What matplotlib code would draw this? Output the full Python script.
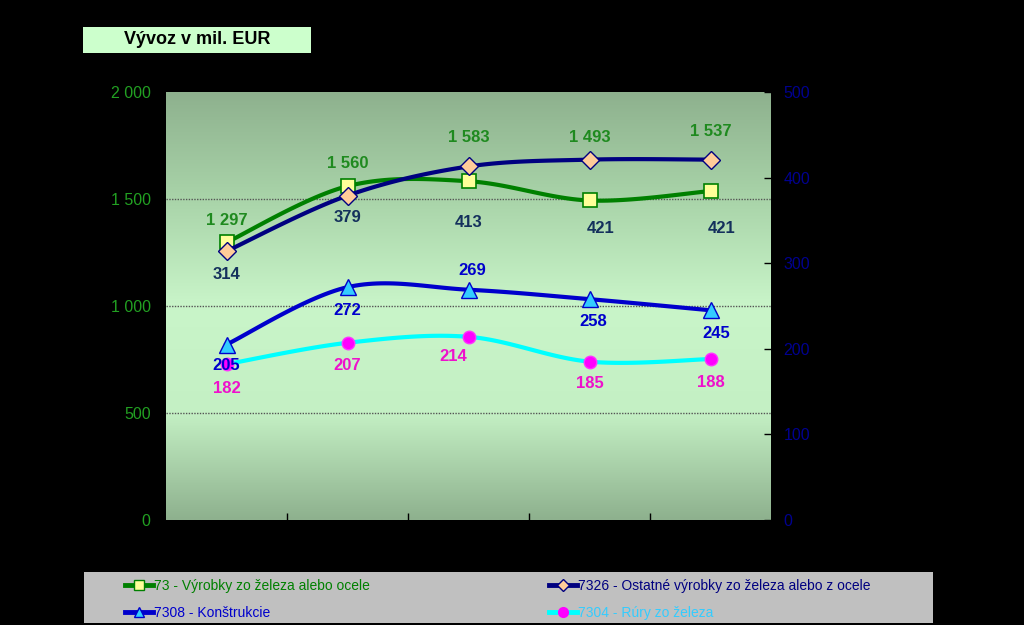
import matplotlib
matplotlib.use('Agg')
import matplotlib.pyplot as plt
from matplotlib.colors import LinearSegmentedColormap
from matplotlib.lines import Line2D
from matplotlib.patches import Rectangle
import numpy as np

plt.rcParams['font.family'] = ['Liberation Sans', 'DejaVu Sans']

# data
years = ['2004', '2005', '2006', '2007', '2008']
v73 = [1297, 1560, 1583, 1493, 1537]          # left axis
v7326 = [314, 379, 413, 421, 421]             # right axis
v7308 = [205, 272, 269, 258, 245]             # right axis
v7304 = [182, 207, 214, 185, 188]             # right axis

names = ['73 - Výrobky zo železa alebo ocele',
         '7326 - Ostatné výrobky zo železa alebo z ocele',
         '7308 - Konštrukcie',
         '7304 - Rúry zo železa']

left_ticks = [0, 500, 1000, 1500, 2000]
left_labels = ['0', '500', '1 000', '1 500', '2 000']
right_ticks = [0, 100, 200, 300, 400, 500]

# label offsets (pixels, x/y) for each point
off73 = [(0, 22), (0, 23), (0, 44), (0, 63), (0, 60)]
off7326 = [(0, -23), (0, -22), (0, -56), (11, -69), (11, -69)]
off7308 = [(0, -21), (0, -23), (4, 19), (4, -22), (6, -23)]
off7304 = [(0, -24), (0, -23), (-15, -20), (0, -22), (0, -23)]


def fmt(v):
    return '{:,}'.format(v).replace(',', ' ')


def smooth(x, y, n=30):
    # catmull-rom style bezier, like excel smoothed lines
    x = np.asarray(x, float)
    y = np.asarray(y, float)
    px = np.concatenate([[x[0]], x, [x[-1]]])
    py = np.concatenate([[y[0]], y, [y[-1]]])
    xs, ys = [], []
    t = np.linspace(0, 1, n)
    for i in range(1, len(px) - 2):
        p0 = np.array([px[i], py[i]])
        p3 = np.array([px[i + 1], py[i + 1]])
        c1 = p0 + (np.array([px[i + 1], py[i + 1]]) - np.array([px[i - 1], py[i - 1]])) / 6
        c2 = p3 - (np.array([px[i + 2], py[i + 2]]) - np.array([px[i], py[i]])) / 6
        b = (((1 - t) ** 3)[:, None] * p0 + (3 * (1 - t) ** 2 * t)[:, None] * c1
             + (3 * (1 - t) * t ** 2)[:, None] * c2 + (t ** 3)[:, None] * p3)
        xs.extend(b[:, 0])
        ys.extend(b[:, 1])
    return xs, ys


fig = plt.figure(figsize=(10.24, 6.25), dpi=100, facecolor='black')
ax = fig.add_axes([166 / 1024, 105 / 625, 605 / 1024, 428 / 625])
ax2 = ax.twinx()

# background gradient
cmap = LinearSegmentedColormap.from_list('bg', ['#8eb18e', '#a9d4a9', '#c9f5c9', '#c4f0c4', '#8eb18e'])
grad = np.linspace(0, 1, 256).reshape(-1, 1)
ax.imshow(grad, cmap=cmap, aspect='auto', extent=[-0.5, 4.5, 0, 2000], origin='upper', zorder=0)

x = np.arange(len(years))

ax.set_xlim(-0.5, 4.5)
ax.set_ylim(0, 2000)
ax2.set_ylim(0, 500)

for v in [500, 1000, 1500]:
    ax.axhline(v, color='#555555', lw=1, ls=(0, (1, 1)), zorder=1)

# lines
sx, sy = smooth(x, v73)
ax.plot(sx, sy, color='#008000', lw=3, zorder=3)
ax.plot(x, v73, ls='None', marker='s', ms=10, mfc='#ffff99', mec='#008000', mew=1.2, zorder=4)

ax.set_zorder(1)
ax.patch.set_visible(False)
ax2.set_zorder(2)

sx, sy = smooth(x, v7326)
ax2.plot(sx, sy, color='#000080', lw=3, zorder=3)
ax2.plot(x, v7326, ls='None', marker='D', ms=9, mfc='#ffcc99', mec='#000080', mew=1.0, zorder=4)

sx, sy = smooth(x, v7308)
ax2.plot(sx, sy, color='#0000cc', lw=3, zorder=3)
ax2.plot(x, v7308, ls='None', marker='^', ms=11, mfc='#33ccff', mec='#0000cc', mew=1.0, zorder=4)

sx, sy = smooth(x, v7304)
ax2.plot(sx, sy, color='#00ffff', lw=3, zorder=3)
ax2.plot(x, v7304, ls='None', marker='o', ms=9, mfc='#ff00ff', mec='#ff33ff', mew=1.0, zorder=4)

# data labels
def labels(a, vals, offs, color):
    for i, v in enumerate(vals):
        a.annotate(fmt(v), (x[i], v), xytext=(offs[i][0] * 0.72, offs[i][1] * 0.72),
                   textcoords='offset points', ha='center', va='center',
                   fontsize=12, fontweight='bold', color=color, zorder=5)

labels(ax, v73, off73, '#1f8a1f')
labels(ax2, v7326, off7326, '#14305c')
labels(ax2, v7308, off7308, '#0000cc')
labels(ax2, v7304, off7304, '#ee11cc')

# axes formatting
for a in [ax, ax2]:
    for s in a.spines.values():
        s.set_visible(False)

ax.set_yticks(left_ticks)
ax.set_yticklabels(left_labels)
ax.tick_params(axis='y', length=0, pad=11, labelsize=11.5, labelcolor='#22a022')
ax.set_xticks(np.arange(0.5, 4.5, 1.0))
ax.set_xticklabels([])
ax.tick_params(axis='x', direction='in', length=5, width=1, color='black')

ax2.set_yticks(right_ticks)
ax2.tick_params(axis='y', direction='in', length=5, width=1, color='black',
                pad=9, labelsize=11.5, labelcolor='#000090')

# title box
fig.patches.append(Rectangle((83 / 1024, 1 - 53 / 625), 228 / 1024, 26 / 625,
                             transform=fig.transFigure, facecolor='#ccffcc', edgecolor='none'))
fig.text(197 / 1024, 1 - 40 / 625, 'Vývoz v mil. EUR', ha='center', va='center',
         fontsize=13, fontweight='bold', color='black')

# legend box
fig.patches.append(Rectangle((84 / 1024, 2 / 625), 849 / 1024, 51 / 625,
                             transform=fig.transFigure, facecolor='#c0c0c0', edgecolor='none'))

h73 = Line2D([], [], color='#008000', lw=3.5, marker='s', ms=7, mfc='#ffff99', mec='#008000')
h7326 = Line2D([], [], color='#000080', lw=3.5, marker='D', ms=6, mfc='#ffcc99', mec='#000080')
h7308 = Line2D([], [], color='#0000cc', lw=3.5, marker='^', ms=7, mfc='#33ccff', mec='#0000cc')
h7304 = Line2D([], [], color='#00ffff', lw=3.5, marker='o', ms=7, mfc='#ff00ff', mec='#ff00ff')

leg_kw = dict(loc='upper left', frameon=False, fontsize=10, handlelength=2.0,
              handletextpad=0.1, labelspacing=0.9, borderpad=0.3)

leg1 = fig.legend([h73, h7308], [names[0], names[2]],
                  bbox_to_anchor=(114 / 1024, 1 - 568 / 625), **leg_kw)
for t, c in zip(leg1.get_texts(), ['#008000', '#0000cc']):
    t.set_color(c)

leg2 = fig.legend([h7326, h7304], [names[1], names[3]],
                  bbox_to_anchor=(538 / 1024, 1 - 568 / 625), **leg_kw)
for t, c in zip(leg2.get_texts(), ['#000080', '#33ccff']):
    t.set_color(c)

plt.savefig('out.png', dpi=100, facecolor='black')
